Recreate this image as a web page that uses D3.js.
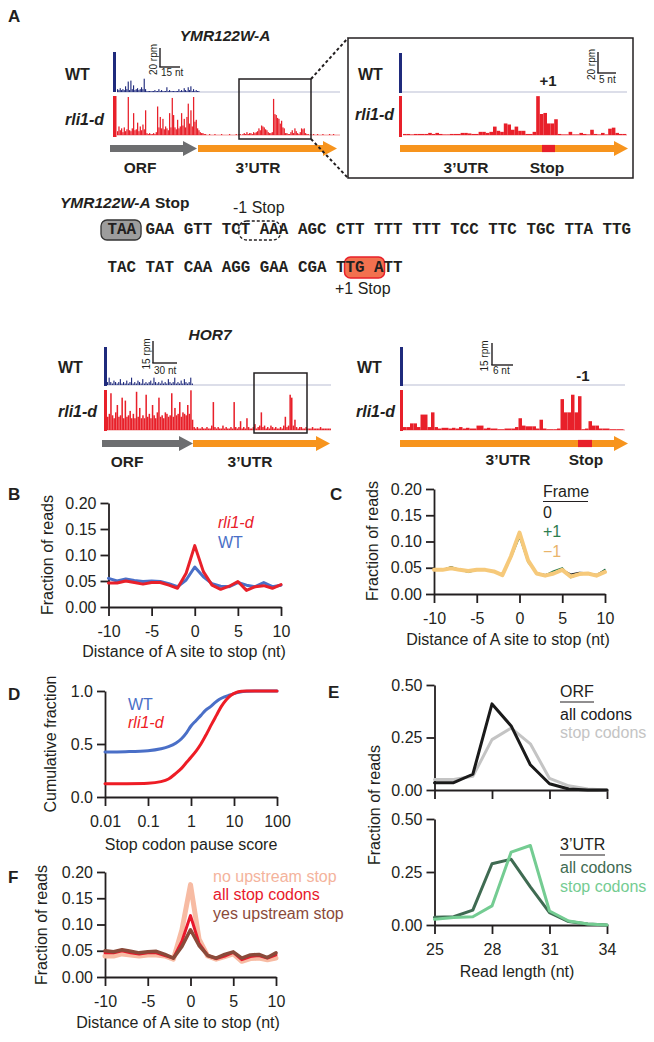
<!DOCTYPE html>
<html><head><meta charset="utf-8">
<script src="https://d3js.org/d3.v7.min.js"></script>
<style>
html,body{margin:0;padding:0;background:#fff;}
svg{display:block;}
</style></head>
<body><svg id="fig" width="654" height="1042" xmlns="http://www.w3.org/2000/svg"></svg>
<script>
// ================= DATA =================
// Panel A — YMR122W-A footprint tracks (rpm per nt)
const ymrWtMain = [3,2,4,2,3,2,6,3,11,2, 12,3,7,2,3,4,2,3,5,3, 14,3,1,1,1,1,1,1,2,1,
  1,3,1,2,1,1,1,5,1,2, 1,1,1,1,1,1,3,1,2,1, 4,2,1,5,2,6,1,3,1,2, 1,1,0,0,0,0];
const ymrRliMain = [4,9,5,7,3,8,4,6,40,5, 4,7,23,5,6,13,4,9,5,11, 6,26,2,1,2,1,1,2,1,3,
  30,8,19,7,17,6,9,7,5,23, 8,39,21,8,6,16,7,9,23,10, 17,8,19,33,12,26,9,40,14,16, 7,5,3,2,2,1,
  1,0,0,1,0,0,0,1,0,0,0,0,1,0,0,0,0,0,1,0,0,0,0,1,0,1,1,0,1,2,1,
  3,1,2,2,1,3,2,3,4,7, 5,10,9,8,6,5,3,2,2,3, 38,22,21,18,17,12,15,8,7,2, 2,1,1,3,5,2,7,4,2,1, 3,7,6,7,2,1,1,0,1,
  0,1,0,0,1,0,0,0,1,0,0,0,0,1,0,0,1,0,0,0];
const ymrRliInset = [1,1,0.5,1,1,1,1,2,1,2, 1,0.5,0.5,1,1,1,2,2,1.5,1, 1,3,3,2,3,8,4,3,11,10,
  5,8,4,4,1,1,3,37,20,21, 11,11,15,1,0.5,0.5,3,0.5,0.5,2, 1,0.5,5,1,0.5,2,0.5,6,7,2, 1,1];
// Panel A — HOR7 tracks (rpm per 2-nt bin in main view, per nt in inset)
const hor7WtMain = [2,5,2,1,3,2,1,2,4,1, 2,1,3,1,2,5,1,2,1,3, 2,1,4,1,2,1,2,3,1,5,
  2,1,2,1,3,1,2,1,4,2, 1,2,5,1,2,1,3,1,4,2, 1,2,5,1];
const hor7RliMain = [9,11,25,10,8,12,17,9,10,22, 8,20,9,10,13,8,11,8,26,9, 15,8,10,8,24,9,11,8,17,10,
  8,12,22,9,10,8,12,11,9,10, 25,9,15,10,11,19,9,12,11,10, 17,11,27,7,
  2,1,2,1,1,2,1,1,2,1, 1,3,19,2,1,2,1,1,3,1, 2,1,1,2,1,19,2,1,2,6, 1,2,1,8,2,1,1,2,4,1,
  2,3,12,2,3,1,2,1,3,2, 1,2,1,1,2,1,3,9,2,3, 24,22,3,7,2,1,2,2,1,1, 2,1,1,1,2,1,1,1,1,2, 1,1,1,1,1,1];
const hor7RliInset = [2,2,4.5,4.5,2,10.5,10.5,2,12,2, 1,1.5,1.5,1,1.5,1,2,1,1.5,1, 1,3,3,1,1.5,1,1,0.5,0.5,1,
  1,1,2,8,3,2.5,2.5,2.5,1,7, 1,0.5,0.5,0.5,1,21,12,12,24,12, 23,0.5,1,6,3,3,1,1,1,0.5, 0.5,0.5,0.5];
// Panel A — sequence
const codonRow1 = ["TAA","GAA","GTT","TCT","AAA","AGC","CTT","TTT","TTT","TCC","TTC","TGC","TTA","TTG"];
const codonRow2 = ["TAC","TAT","CAA","AGG","GAA","CGA","TTG","ATT"];

// Panels B, C, F — distance of A site to stop (nt)
const positions = [-10,-9,-8,-7,-6,-5,-4,-3,-2,-1,0,1,2,3,4,5,6,7,8,9,10];
const bWT  = [0.055,0.050,0.054,0.051,0.049,0.050,0.049,0.045,0.039,0.052,0.077,0.058,0.045,0.040,0.039,0.047,0.042,0.039,0.047,0.039,0.042];
const bRli = [0.046,0.046,0.050,0.047,0.044,0.047,0.047,0.042,0.036,0.065,0.118,0.068,0.042,0.034,0.040,0.049,0.032,0.039,0.041,0.036,0.043];
const cFrame0     = [0.046,0.047,0.051,0.047,0.045,0.046,0.046,0.043,0.037,0.070,0.112,0.063,0.040,0.037,0.040,0.046,0.038,0.041,0.040,0.037,0.045];
const cFramePlus1 = [0.045,0.046,0.052,0.046,0.041,0.045,0.046,0.042,0.036,0.068,0.108,0.060,0.040,0.036,0.044,0.050,0.031,0.037,0.040,0.036,0.047];
const cFrameMinus1= [0.046,0.046,0.049,0.046,0.044,0.046,0.046,0.043,0.036,0.072,0.117,0.064,0.039,0.035,0.039,0.046,0.033,0.038,0.039,0.035,0.042];
const fNoUpstream  = [0.040,0.040,0.044,0.042,0.040,0.042,0.042,0.040,0.034,0.090,0.176,0.072,0.040,0.034,0.039,0.044,0.030,0.035,0.036,0.033,0.036];
const fAllStops    = [0.046,0.046,0.050,0.046,0.044,0.046,0.046,0.041,0.036,0.068,0.117,0.064,0.041,0.035,0.040,0.047,0.033,0.039,0.041,0.036,0.042];
const fYesUpstream = [0.050,0.048,0.052,0.049,0.046,0.048,0.049,0.043,0.036,0.058,0.090,0.060,0.041,0.036,0.043,0.048,0.036,0.042,0.043,0.037,0.046];

// Panel D — cumulative fraction vs stop codon pause score
const dWtScore  = [0.01,0.03,0.1,0.2,0.3,0.45,0.6,0.8,1.0,1.3,1.7,2.2,2.8,3.5,4.5,6,8,10,14,20,30,50,100];
const dWtFrac   = [0.425,0.428,0.437,0.455,0.475,0.51,0.55,0.61,0.67,0.72,0.77,0.82,0.85,0.885,0.92,0.945,0.962,0.975,0.99,0.997,1.0,1.0,1.0];
const dRliScore = [0.01,0.03,0.1,0.2,0.3,0.45,0.6,0.8,1.0,1.35,1.7,2.3,3.0,3.9,5,6.7,8.5,11,15,20,50,100];
const dRliFrac  = [0.125,0.126,0.13,0.145,0.17,0.225,0.27,0.33,0.375,0.44,0.5,0.595,0.685,0.77,0.85,0.92,0.96,0.985,0.997,1.0,1.0,1.0];

// Panel E — read length distributions
const readLengths = [25,26,27,28,29,30,31,32,33,34];
const eOrfAll  = [0.035,0.035,0.075,0.41,0.305,0.12,0.03,0.005,0.0,0.0];
const eOrfStop = [0.05,0.05,0.065,0.24,0.295,0.22,0.055,0.02,0.005,0.0];
const eUtrAll  = [0.036,0.039,0.07,0.289,0.31,0.18,0.058,0.016,0.005,0.0];
const eUtrStop = [0.027,0.035,0.039,0.09,0.344,0.375,0.066,0.019,0.005,0.0];

// ================= DRAWING =================
const FONT = "'Liberation Sans', Arial, Helvetica, sans-serif";
const MONO = "'Liberation Mono', 'Courier New', monospace";
const INK = "#231f20";
const NAVY = "#1f2a7c", RED = "#e8202a", GRAYA = "#6d6e70", ORANGE = "#f7941d";
const svg = d3.select("#fig").attr("font-family", FONT);

function txt(x, y, s, o = {}) {
  const t = svg.append("text").attr("x", x).attr("y", y).text(s)
    .attr("font-size", o.size || 16).attr("fill", o.fill || INK)
    .attr("font-weight", o.weight || "normal").attr("font-style", o.style || "normal")
    .attr("text-anchor", o.anchor || "start");
  if (o.family) t.attr("font-family", o.family);
  if (o.rotate) t.attr("transform", `rotate(${o.rotate},${x},${y})`);
  return t;
}
function line(x1, y1, x2, y2, color, w, dash) {
  const l = svg.append("line").attr("x1", x1).attr("y1", y1).attr("x2", x2).attr("y2", y2)
    .attr("stroke", color).attr("stroke-width", w);
  if (dash) l.attr("stroke-dasharray", dash);
  return l;
}
function track(values, x0, step, baseY, pxPerRpm, color, baseColor, xEnd, barFrac) {
  const x = d3.scaleLinear().domain([0, values.length]).range([x0, x0 + values.length * step]);
  const y = d3.scaleLinear().domain([0, 10]).range([baseY, baseY - 10 * pxPerRpm]);
  line(x0, baseY, xEnd, baseY, baseColor, 1);
  svg.append("g").selectAll("rect").data(values).join("rect")
    .attr("x", (d, i) => x(i)).attr("width", step * barFrac)
    .attr("y", d => y(d)).attr("height", d => baseY - y(d)).attr("fill", color);
}
function arrow(x0, x1, y, color) {
  const sh = 3.6, hh = 7.5, hl = 14;
  const pts = [[x0, y - sh], [x1 - hl, y - sh], [x1 - hl, y - hh], [x1, y], [x1 - hl, y + hh], [x1 - hl, y + sh], [x0, y + sh]];
  svg.append("polygon").attr("points", pts.map(p => p.join(",")).join(" ")).attr("fill", color);
}
function scaleBar(x, yTop, yBot, xRight, vLabel, hLabel, vlx, hly) {
  line(x, yTop, x, yBot, INK, 1.4);
  line(x - 0.7, yBot, xRight, yBot, INK, 1.4);
  txt(vlx, (yTop + yBot) / 2 + 2, vLabel, { size: 10, anchor: "middle", rotate: -90 });
  txt(x + 1, hly, hLabel, { size: 10 });
}

// ---- Panel letters
[["A", 8, 22], ["B", 8, 500], ["C", 330, 500], ["D", 8, 700], ["E", 328, 698], ["F", 8, 883]]
  .forEach(p => txt(p[1], p[2], p[0], { size: 17, weight: "bold" }));

// ---- Panel A : YMR122W-A
txt(225, 41, "YMR122W-A", { size: 15.5, weight: "bold", style: "italic", anchor: "middle" });
txt(65, 80, "WT", { size: 16, weight: "bold" });
txt(65, 125, "rli1-d", { size: 16, weight: "bold", style: "italic" });
svg.append("rect").attr("x", 113).attr("y", 52).attr("width", 3).attr("height", 40).attr("fill", NAVY);
svg.append("rect").attr("x", 113).attr("y", 96).attr("width", 3.5).attr("height", 41).attr("fill", RED);
track(ymrWtMain, 117, 1.333, 92, 0.95, NAVY, "#b9bdd3", 340, 0.85);
track(ymrRliMain, 117, 1.333, 135, 0.95, RED, "#f29a9a", 340, 0.95);
scaleBar(160, 48, 67, 180, "20 rpm", "15 nt", 157, 76);
svg.append("rect").attr("x", 239).attr("y", 79).attr("width", 72).attr("height", 60)
  .attr("fill", "none").attr("stroke", INK).attr("stroke-width", 1.5);
arrow(110, 197, 148.5, GRAYA);
arrow(198, 337, 148.5, ORANGE);
txt(140, 173, "ORF", { size: 15.5, weight: "bold", anchor: "middle" });
txt(258, 173, "3’UTR", { size: 15.5, weight: "bold", anchor: "middle" });
line(311, 79, 348, 38, INK, 2, "3,2.5");
line(311, 139, 348, 178, INK, 2, "3,2.5");
// inset
svg.append("rect").attr("x", 348).attr("y", 38).attr("width", 285).attr("height", 140)
  .attr("fill", "none").attr("stroke", INK).attr("stroke-width", 1.5);
txt(358, 80, "WT", { size: 16, weight: "bold" });
txt(355, 120, "rli1-d", { size: 16, weight: "bold", style: "italic" });
svg.append("rect").attr("x", 399).attr("y", 53).attr("width", 3).attr("height", 40).attr("fill", NAVY);
svg.append("rect").attr("x", 399).attr("y", 96).attr("width", 3).attr("height", 41).attr("fill", RED);
line(402, 92, 627, 92, "#b9bdd3", 1.2);
track(ymrRliInset, 403, 3.6, 135, 1.05, RED, "#f29a9a", 627, 1);
txt(548, 86, "+1", { size: 15, weight: "bold", anchor: "middle" });
scaleBar(598, 52, 73, 616, "20 rpm", "5 nt", 595, 83);
arrow(400, 628, 148.5, ORANGE);
svg.append("rect").attr("x", 542).attr("y", 144.9).attr("width", 13).attr("height", 7.2).attr("fill", RED);
txt(466, 173, "3’UTR", { size: 15.5, weight: "bold", anchor: "middle" });
txt(547, 173, "Stop", { size: 15.5, weight: "bold", anchor: "middle" });

// ---- Sequence
const cw = 9.52, sx0 = 107.5;
const seqTitle = svg.append("text").attr("x", 60).attr("y", 208).attr("font-size", 15.5).attr("font-weight", "bold").attr("fill", INK);
seqTitle.append("tspan").attr("font-style", "italic").text("YMR122W-A");
seqTitle.append("tspan").text(" Stop");
txt(233, 213, "-1 Stop", { size: 16 });
svg.append("rect").attr("x", sx0 - 6.5).attr("y", 220).attr("width", 3 * cw + 11.5).attr("height", 20).attr("rx", 6)
  .attr("fill", "#9d9d9d").attr("stroke", "#333").attr("stroke-width", 1.3);
svg.append("rect").attr("x", sx0 + 14 * cw - 2).attr("y", 221).attr("width", 4 * cw + 4).attr("height", 19).attr("rx", 8)
  .attr("fill", "none").attr("stroke", INK).attr("stroke-width", 1.3).attr("stroke-dasharray", "3,2");
svg.append("rect").attr("x", sx0 + 25 * cw - 1).attr("y", 257).attr("width", 4 * cw + 2).attr("height", 21).attr("rx", 6)
  .attr("fill", "#f2714f").attr("stroke", RED).attr("stroke-width", 1.5);
codonRow1.forEach((c, i) => txt(sx0 + i * 4 * cw, 234, c, { size: 15.87, weight: "bold", family: MONO }));
codonRow2.forEach((c, i) => txt(sx0 + i * 4 * cw, 272, c, { size: 15.87, weight: "bold", family: MONO }));
txt(335, 294, "+1 Stop", { size: 16 });

// ---- HOR7
txt(210, 340, "HOR7", { size: 15.5, weight: "bold", style: "italic", anchor: "middle" });
txt(58, 373, "WT", { size: 16, weight: "bold" });
txt(58, 417, "rli1-d", { size: 16, weight: "bold", style: "italic" });
svg.append("rect").attr("x", 104).attr("y", 347).attr("width", 3).attr("height", 39).attr("fill", NAVY);
svg.append("rect").attr("x", 104).attr("y", 390).attr("width", 3).attr("height", 41).attr("fill", RED);
track(hor7WtMain, 107, 1.6, 385, 1.47, NAVY, "#b9bdd3", 331, 0.7);
track(hor7RliMain, 107, 1.6, 430, 1.47, RED, "#f29a9a", 331, 0.95);
scaleBar(153, 341, 363, 177, "15 rpm", "30 nt", 150, 374);
svg.append("rect").attr("x", 254).attr("y", 373).attr("width", 53).attr("height", 60)
  .attr("fill", "none").attr("stroke", INK).attr("stroke-width", 1.5);
arrow(102, 193, 443.5, GRAYA);
arrow(193, 330, 443.5, ORANGE);
txt(127, 467, "ORF", { size: 15.5, weight: "bold", anchor: "middle" });
txt(250, 467, "3’UTR", { size: 15.5, weight: "bold", anchor: "middle" });
// HOR7 inset
txt(357, 373, "WT", { size: 16, weight: "bold" });
txt(356, 417, "rli1-d", { size: 16, weight: "bold", style: "italic" });
svg.append("rect").attr("x", 400).attr("y", 347).attr("width", 3).attr("height", 39).attr("fill", NAVY);
svg.append("rect").attr("x", 400).attr("y", 390).attr("width", 3).attr("height", 41).attr("fill", RED);
line(403, 385, 625, 385, "#b9bdd3", 1.2);
track(hor7RliInset, 403, 3.5, 430, 1.47, RED, "#f29a9a", 625, 1);
scaleBar(492, 343, 365, 513, "15 rpm", "6 nt", 488, 374);
txt(583, 381, "-1", { size: 15, weight: "bold", anchor: "middle" });
arrow(400, 628, 443.5, ORANGE);
svg.append("rect").attr("x", 578).attr("y", 439.9).attr("width", 14).attr("height", 7.2).attr("fill", RED);
txt(508, 465, "3’UTR", { size: 15.5, weight: "bold", anchor: "middle" });
txt(586, 465, "Stop", { size: 15.5, weight: "bold", anchor: "middle" });

// ---- Line chart helper
function styleAxis(a) {
  a.attr("font-size", 16).attr("font-family", FONT);
  a.selectAll("path,line").attr("stroke", INK).attr("stroke-width", 1.8);
  a.selectAll("text").attr("fill", INK);
}
function linePanel(cfg) {
  const x = cfg.x, y = cfg.y;
  const ax = svg.append("g").attr("transform", `translate(0,${y.range()[0]})`)
    .call(d3.axisBottom(x).tickValues(cfg.xTicks).tickFormat(cfg.xFmt).tickSize(9).tickSizeOuter(0).tickPadding(10));
  const ay = svg.append("g").attr("transform", `translate(${x.range()[0]},0)`)
    .call(d3.axisLeft(y).tickValues(cfg.yTicks).tickFormat(cfg.yFmt).tickSize(8).tickSizeOuter(0).tickPadding(4));
  styleAxis(ax); styleAxis(ay);
  if (cfg.noXLabels) ax.selectAll("text").remove();
  cfg.series.forEach(s => {
    svg.append("path").datum(s.values).attr("fill", "none").attr("stroke", s.color)
      .attr("stroke-width", s.width).attr("stroke-linejoin", "round").attr("stroke-linecap", "round")
      .attr("d", d3.line().x((d, i) => x(s.xs[i])).y(d => y(d)).curve(s.curve || d3.curveLinear));
  });
}
const f2 = d3.format(".2f"), f1 = d3.format(".1f"), plain = d => String(d);

// ---- Panel B
const xB = d3.scaleLinear().domain([-10, 10]).range([108.5, 281]);
const yB = d3.scaleLinear().domain([0, 0.2]).range([607, 503]);
linePanel({ x: xB, y: yB, xTicks: [-10, -5, 0, 5, 10], xFmt: plain, yTicks: [0, 0.05, 0.1, 0.15, 0.2], yFmt: f2,
  series: [
    { xs: positions, values: bWT, color: "#4a6fc7", width: 3 },
    { xs: positions, values: bRli, color: RED, width: 3 }] });
txt(53, 555, "Fraction of reads", { size: 16, anchor: "middle", rotate: -90 });
txt(184, 657, "Distance of A site to stop (nt)", { size: 16, anchor: "middle" });
txt(218, 528, "rli1-d", { size: 16, style: "italic", fill: RED });
txt(218, 548, "WT", { size: 16, fill: "#4a6fc7" });

// ---- Panel C
const xC = d3.scaleLinear().domain([-10, 10]).range([434, 605]);
const yC = d3.scaleLinear().domain([0, 0.2]).range([594, 489]);
linePanel({ x: xC, y: yC, xTicks: [-10, -5, 0, 5, 10], xFmt: plain, yTicks: [0, 0.05, 0.1, 0.15, 0.2], yFmt: f2,
  series: [
    { xs: positions, values: cFramePlus1, color: "#2e7d4e", width: 1.3 },
    { xs: positions, values: cFrame0, color: "#1a1a1a", width: 1.3 },
    { xs: positions, values: cFrameMinus1, color: "#f6c97a", width: 4 }] });
txt(378, 541, "Fraction of reads", { size: 16, anchor: "middle", rotate: -90 });
txt(508, 645, "Distance of A site to stop (nt)", { size: 16, anchor: "middle" });
txt(543, 497, "Frame", { size: 16 });
line(543, 501.5, 588, 501.5, INK, 1.2);
txt(543, 518, "0", { size: 16 });
txt(543, 537, "+1", { size: 16, fill: "#2e7d4e" });
txt(543, 557, "−1", { size: 16, fill: "#e9b46a" });

// ---- Panel D
const xD = d3.scaleLog().domain([0.01, 100]).range([105, 277]);
const yD = d3.scaleLinear().domain([0, 1]).range([797, 691]);
linePanel({ x: xD, y: yD, xTicks: [0.01, 0.1, 1, 10, 100], xFmt: plain, yTicks: [0, 0.5, 1], yFmt: f1,
  series: [
    { xs: dWtScore, values: dWtFrac, color: "#4a6fc7", width: 3, curve: d3.curveMonotoneX },
    { xs: dRliScore, values: dRliFrac, color: "#ee1c25", width: 3, curve: d3.curveMonotoneX }] });
txt(56, 744, "Cumulative fraction", { size: 16, anchor: "middle", rotate: -90 });
txt(191, 850, "Stop codon pause score", { size: 16, anchor: "middle" });
txt(128, 710, "WT", { size: 16, fill: "#4a6fc7" });
txt(128, 728, "rli1-d", { size: 16, style: "italic", fill: "#ee1c25" });

// ---- Panel E
const xE = d3.scaleLinear().domain([25, 34]).range([434.5, 607]);
const yEtop = d3.scaleLinear().domain([0, 0.5]).range([790, 685]);
const yEbot = d3.scaleLinear().domain([0, 0.5]).range([925, 819]);
linePanel({ x: xE, y: yEtop, xTicks: [25, 28, 31, 34], xFmt: plain, noXLabels: true, yTicks: [0, 0.25, 0.5], yFmt: f2,
  series: [
    { xs: readLengths, values: eOrfStop, color: "#c4c4c4", width: 3 },
    { xs: readLengths, values: eOrfAll, color: "#1a1a1a", width: 3 }] });
linePanel({ x: xE, y: yEbot, xTicks: [25, 28, 31, 34], xFmt: plain, yTicks: [0, 0.25, 0.5], yFmt: f2,
  series: [
    { xs: readLengths, values: eUtrAll, color: "#3f6b52", width: 3 },
    { xs: readLengths, values: eUtrStop, color: "#74cc92", width: 3 }] });
txt(380, 805, "Fraction of reads", { size: 16, anchor: "middle", rotate: -90 });
txt(517, 977, "Read length (nt)", { size: 16, anchor: "middle" });
txt(560, 697, "ORF", { size: 16 });
line(560, 702, 594, 702, INK, 1.2);
txt(560, 720, "all codons", { size: 16, fill: "#1a1a1a" });
txt(560, 738, "stop codons", { size: 16, fill: "#c4c4c4" });
txt(560, 850, "3’UTR", { size: 16 });
line(560, 855, 605, 855, INK, 1.2);
txt(560, 873, "all codons", { size: 16, fill: "#3f6b52" });
txt(560, 892, "stop codons", { size: 16, fill: "#74cc92" });

// ---- Panel F
const xF = d3.scaleLinear().domain([-10, 10]).range([105, 276]);
const yF = d3.scaleLinear().domain([0, 0.2]).range([977, 872]);
linePanel({ x: xF, y: yF, xTicks: [-10, -5, 0, 5, 10], xFmt: plain, yTicks: [0, 0.05, 0.1, 0.15, 0.2], yFmt: f2,
  series: [
    { xs: positions, values: fNoUpstream, color: "#f7bba3", width: 5 },
    { xs: positions, values: fAllStops, color: "#e8192c", width: 3 },
    { xs: positions, values: fYesUpstream, color: "#8a4a3a", width: 3.5 }] });
txt(47, 925, "Fraction of reads", { size: 16, anchor: "middle", rotate: -90 });
txt(178, 1028, "Distance of A site to stop (nt)", { size: 16, anchor: "middle" });
txt(213, 882, "no upstream stop", { size: 16, fill: "#f4b39c" });
txt(213, 900, "all stop codons", { size: 16, fill: "#e8192c" });
txt(213, 919, "yes upstream stop", { size: 16, fill: "#8a4a3a" });
</script></body></html>
